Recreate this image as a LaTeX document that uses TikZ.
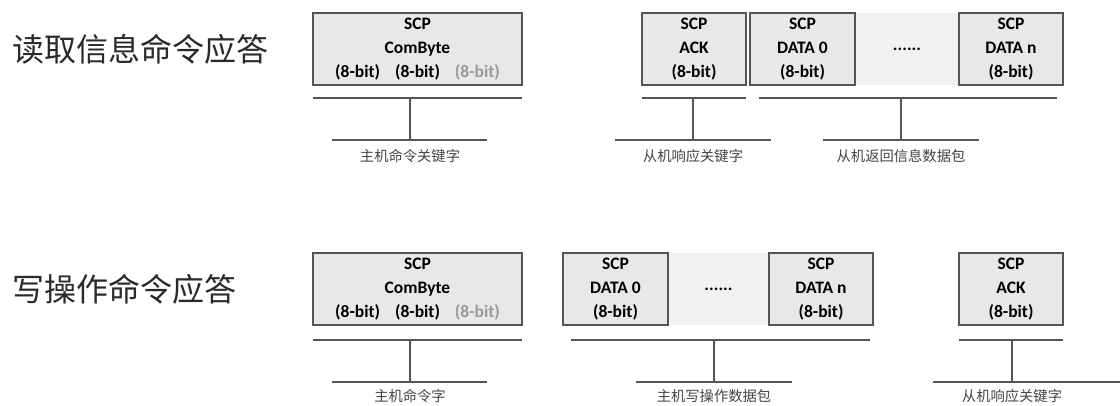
\documentclass[tikz,border=0pt]{standalone}
\usepackage{fontspec}
\setmainfont{Carlito}
\newfontfamily\cjk{Noto Sans CJK SC}
\definecolor{boxline}{HTML}{555555}
\definecolor{boxfill}{HTML}{E8E8E8}
\definecolor{gapfill}{HTML}{F1F1F1}
\definecolor{lbl}{HTML}{444444}
\definecolor{ttl}{HTML}{2A2A2A}
\definecolor{dim}{HTML}{999999}
\begin{document}
\begin{tikzpicture}[x=1pt,y=-1pt,
  field/.style={draw=boxline,line width=1.6pt,fill=boxfill,rectangle,
    minimum height=72pt,inner sep=0pt,align=center,
    font=\bfseries\fontsize{17.5}{24}\selectfont,text=black},
  gapbox/.style={fill=gapfill,rectangle,minimum height=72pt,inner sep=0pt,
    font=\bfseries\fontsize{17.5}{24}\selectfont},
  brk/.style={draw=boxline,line width=1.5pt},
  lab/.style={font=\cjk\fontsize{14.3}{16}\selectfont,text=lbl,inner sep=0pt},
  title/.style={font=\cjk\fontsize{32}{36}\selectfont,text=ttl,anchor=west,inner sep=0pt}]
\useasboundingbox (0,0) rectangle (1120,405);

% titles
\node[title] (t1) at (12,49) {读取信息命令应答};
\node[title] (t2) at (12,289) {写操作命令应答};

% ---------- top row ----------
\node[gapbox,minimum width=104pt] (g1) at (907,49) {......};
\node[field,minimum width=209pt] (cb1) at (417.5,49)
  {SCP\\ComByte\\(8-bit)\hspace{15pt}(8-bit)\hspace{15pt}\textcolor{dim}{(8-bit)}};
\node[field,minimum width=104pt] (ack1) at (694,49) {SCP\\ACK\\(8-bit)};
\node[field,minimum width=105pt] (d01) at (802.5,49) {SCP\\DATA 0\\(8-bit)};
\node[field,minimum width=104pt] (dn1) at (1011,49) {SCP\\DATA n\\(8-bit)};

% brackets top
\coordinate (a1l) at (313,98); \coordinate (a1r) at (522,98);
\coordinate (a1t) at (410,98); \coordinate (a1b) at (410,140);
\coordinate (a1fl) at (332,140); \coordinate (a1fr) at (487,140);
\draw[brk] (a1l) -- (a1r); \draw[brk] (a1t) -- (a1b); \draw[brk] (a1fl) -- (a1fr);
\node[lab] (l1) at (410,156) {主机命令关键字};

\coordinate (b1l) at (642,98); \coordinate (b1r) at (746,98);
\coordinate (b1t) at (693,98); \coordinate (b1b) at (693,140);
\coordinate (b1fl) at (615,140); \coordinate (b1fr) at (771,140);
\draw[brk] (b1l) -- (b1r); \draw[brk] (b1t) -- (b1b); \draw[brk] (b1fl) -- (b1fr);
\node[lab] (l2) at (693,156) {从机响应关键字};

\coordinate (c1l) at (759,98); \coordinate (c1r) at (1057,98);
\coordinate (c1t) at (901,98); \coordinate (c1b) at (901,140);
\coordinate (c1fl) at (823,140); \coordinate (c1fr) at (979,140);
\draw[brk] (c1l) -- (c1r); \draw[brk] (c1t) -- (c1b); \draw[brk] (c1fl) -- (c1fr);
\node[lab] (l3) at (901,156) {从机返回信息数据包};

% ---------- bottom row ----------
\node[gapbox,minimum width=101pt] (g2) at (718.5,289) {......};
\node[field,minimum width=209pt] (cb2) at (417.5,289)
  {SCP\\ComByte\\(8-bit)\hspace{15pt}(8-bit)\hspace{15pt}\textcolor{dim}{(8-bit)}};
\node[field,minimum width=105pt] (d02) at (615.5,289) {SCP\\DATA 0\\(8-bit)};
\node[field,minimum width=104pt] (dn2) at (821,289) {SCP\\DATA n\\(8-bit)};
\node[field,minimum width=104pt] (ack2) at (1011,289) {SCP\\ACK\\(8-bit)};

% brackets bottom
\coordinate (a2l) at (313,340); \coordinate (a2r) at (522,340);
\coordinate (a2t) at (410,340); \coordinate (a2b) at (410,382);
\coordinate (a2fl) at (332,382); \coordinate (a2fr) at (487,382);
\draw[brk] (a2l) -- (a2r); \draw[brk] (a2t) -- (a2b); \draw[brk] (a2fl) -- (a2fr);
\node[lab] (l4) at (410,396) {主机命令字};

\coordinate (b2l) at (571,340); \coordinate (b2r) at (870,340);
\coordinate (b2t) at (714,340); \coordinate (b2b) at (714,382);
\coordinate (b2fl) at (636,382); \coordinate (b2fr) at (792,382);
\draw[brk] (b2l) -- (b2r); \draw[brk] (b2t) -- (b2b); \draw[brk] (b2fl) -- (b2fr);
\node[lab] (l5) at (714,396) {主机写操作数据包};

\coordinate (c2l) at (959,340); \coordinate (c2r) at (1063,340);
\coordinate (c2t) at (1012,340); \coordinate (c2b) at (1012,382);
\coordinate (c2fl) at (933,382); \coordinate (c2fr) at (1120,382);
\draw[brk] (c2l) -- (c2r); \draw[brk] (c2t) -- (c2b); \draw[brk] (c2fl) -- (c2fr);
\node[lab] (l6) at (1012,396) {从机响应关键字};
\end{tikzpicture}
\end{document}
